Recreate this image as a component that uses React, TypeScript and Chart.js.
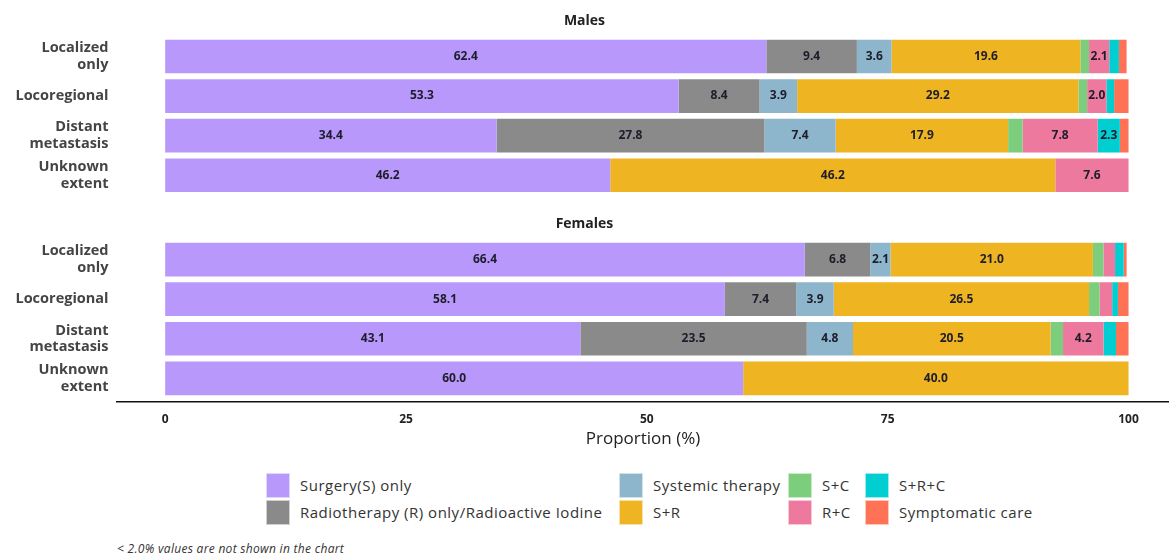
import React, { useEffect, useRef } from "react";
import { Chart, registerables } from "chart.js";

Chart.register(...registerables);
Chart.defaults.font.family = "'Open Sans', 'DejaVu Sans', sans-serif";

// ---------- data ----------
const categories: (string | string[])[] = [
  ["Localized", "only"],
  "Locoregional",
  ["Distant", "metastasis"],
  ["Unknown", "extent"],
];

const seriesNames = [
  "Surgery(S) only",
  "Radiotherapy (R) only/Radioactive Iodine",
  "Systemic therapy",
  "S+R",
  "S+C",
  "R+C",
  "S+R+C",
  "Symptomatic care",
];

const seriesColors = [
  "#b899fb",
  "#8a8a8a",
  "#8db6cd",
  "#eeb422",
  "#7ccd7c",
  "#ee799f",
  "#00ced1",
  "#ff7256",
];

const xTicks = [0, 25, 50, 75, 100];
const labelThreshold = 2.0;

// Males
const maleSurgery = [62.4, 53.3, 34.4, 46.2];
const maleRadio = [9.4, 8.4, 27.8, 0];
const maleSystemic = [3.6, 3.9, 7.4, 0];
const maleSR = [19.6, 29.2, 17.9, 46.2];
const maleSC = [0.9, 0.9, 1.5, 0];
const maleRC = [2.1, 2.0, 7.8, 7.6];
const maleSRC = [1.0, 0.8, 2.3, 0];
const maleSymptomatic = [0.8, 1.5, 0.9, 0];

// Females
const femaleSurgery = [66.4, 58.1, 43.1, 60.0];
const femaleRadio = [6.8, 7.4, 23.5, 0];
const femaleSystemic = [2.1, 3.9, 4.8, 0];
const femaleSR = [21.0, 26.5, 20.5, 40.0];
const femaleSC = [1.1, 1.1, 1.3, 0];
const femaleRC = [1.2, 1.3, 4.2, 0];
const femaleSRC = [0.9, 0.6, 1.3, 0];
const femaleSymptomatic = [0.3, 1.1, 1.3, 0];

const maleSeries = [maleSurgery, maleRadio, maleSystemic, maleSR, maleSC, maleRC, maleSRC, maleSymptomatic];
const femaleSeries = [femaleSurgery, femaleRadio, femaleSystemic, femaleSR, femaleSC, femaleRC, femaleSRC, femaleSymptomatic];

// ---------- plugins ----------
const valueLabels = {
  id: "valueLabels",
  afterDatasetsDraw(chart: any) {
    const ctx = chart.ctx;
    ctx.save();
    ctx.font = "bold 12px 'Open Sans', sans-serif";
    ctx.fillStyle = "#1d1d2b";
    ctx.textAlign = "center";
    ctx.textBaseline = "middle";
    chart.data.datasets.forEach((ds: any, di: number) => {
      const meta = chart.getDatasetMeta(di);
      meta.data.forEach((el: any, i: number) => {
        const v = ds.data[i].x;
        if (v >= labelThreshold) {
          const cx = (el.x + el.base) / 2;
          ctx.fillText(v.toFixed(1), cx, el.y);
        }
      });
    });
    ctx.restore();
  },
};

function makeConfig(title: string, series: number[][], showX: boolean, titlePad: any, bottomPad: number): any {
  return {
    type: "bar",
    data: {
      datasets: series.map((vals, si) => ({
        label: seriesNames[si],
        data: vals.map((v, i) => ({ x: v, y: i })),
        backgroundColor: seriesColors[si],
        borderWidth: 0,
        categoryPercentage: 1,
        barPercentage: 0.85,
      })),
    },
    options: {
      indexAxis: "y",
      animation: false,
      responsive: false,
      layout: { padding: { top: 0, bottom: bottomPad, left: 0, right: 0 } },
      plugins: {
        legend: { display: false },
        tooltip: { enabled: false },
        title: {
          display: true,
          text: title,
          font: { size: 14, weight: "bold" },
          color: "#222",
          padding: titlePad,
        },
      },
      scales: {
        x: {
          type: "linear",
          min: -5,
          max: 104.2,
          stacked: true,
          display: showX,
          afterBuildTicks: (s: any) => {
            s.ticks = xTicks.map((v) => ({ value: v }));
          },
          grid: { display: false, drawTicks: false },
          border: { display: true, color: "#111", width: 1.5 },
          ticks: {
            font: { size: 12, weight: "bold" },
            color: "#222",
            padding: 9.8,
            maxRotation: 0,
            autoSkip: false,
          },
          title: {
            display: true,
            text: "Proportion (%)",
            font: { size: 17 },
            color: "#222",
            padding: { top: -7.2, bottom: 0 },
          },
        },
        y: {
          type: "linear",
          min: -0.6,
          max: 3.6,
          offset: false,
          reverse: true,
          stacked: true,
          afterBuildTicks: (s: any) => {
            s.ticks = categories.map((_, i) => ({ value: i }));
          },
          afterFit: (s: any) => {
            s.width = 117;
            s.paddingTop = 0;
            s.paddingBottom = 0;
          },
          grid: { display: false, drawTicks: false },
          border: { display: false },
          ticks: {
            callback: (v: number) => categories[v],
            font: { size: 14.5, weight: "bold", lineHeight: 1.15 },
            color: "#444",
            padding: 8.5,
            autoSkip: false,
          },
        },
      },
    },
    plugins: [valueLabels],
  };
}

const legendCols = [266, 619, 788, 865];
const legendRows = [473, 500];

export default function App() {
  const topRef = useRef<HTMLCanvasElement>(null);
  const botRef = useRef<HTMLCanvasElement>(null);

  useEffect(() => {
    const c1 = new Chart(topRef.current as any, makeConfig("Males", maleSeries, false, { top: 13, bottom: 2.9 }, 1));
    const c2 = new Chart(botRef.current as any, makeConfig("Females", femaleSeries, true, { top: 15.6, bottom: 3.4 }, 0.7));
    return () => {
      c1.destroy();
      c2.destroy();
    };
  }, []);

  return (
    <div
      style={{
        position: "absolute",
        left: 0,
        top: 0,
        width: 1169,
        height: 557,
        background: "#fff",
        fontFamily: "'Open Sans', sans-serif",
      }}
    >
      <canvas ref={topRef} width={1169} height={200} style={{ position: "absolute", left: 0, top: 0 }} />
      <canvas ref={botRef} width={1169} height={250} style={{ position: "absolute", left: 0, top: 200 }} />
      {seriesNames.map((name, i) => {
        const col = Math.floor(i / 2);
        const row = i % 2;
        return (
          <div key={name}>
            <div
              style={{
                position: "absolute",
                left: legendCols[col],
                top: legendRows[row],
                width: 24,
                height: 25,
                background: seriesColors[i],
                boxSizing: "border-box",
                border: "1px solid rgba(255,255,255,0.6)",
              }}
            />
            <div
              style={{
                position: "absolute",
                left: legendCols[col] + 34,
                top: legendRows[row],
                height: 25,
                lineHeight: "25px",
                fontSize: 15,
                letterSpacing: "0.5px",
                color: "#333",
                whiteSpace: "nowrap",
              }}
            >
              {name}
            </div>
          </div>
        );
      })}
      <div
        style={{
          position: "absolute",
          left: 117,
          top: 541,
          fontSize: 12,
          fontStyle: "italic",
          color: "#333",
          whiteSpace: "nowrap",
          lineHeight: "16px",
          letterSpacing: "0.3px",
        }}
      >
        {"< 2.0% values are not shown in the chart"}
      </div>
    </div>
  );
}
